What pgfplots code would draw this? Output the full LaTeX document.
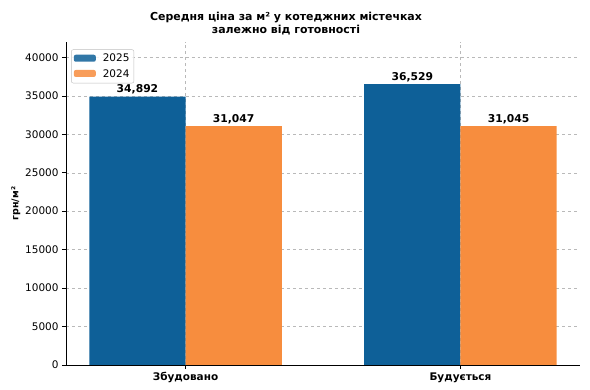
\documentclass[border=0pt]{standalone}
\usepackage{fontspec}
\setmainfont{DejaVu Sans}
\usepackage{pgfplots}
\pgfplotsset{compat=1.18}
\definecolor{cblue}{RGB}{14,96,152}
\definecolor{corange}{RGB}{247,141,62}
\begin{document}
\begin{tikzpicture}
\useasboundingbox (0,0) rectangle (590bp,390bp);
\begin{axis}[
  at={(66bp,25bp)}, anchor=south west,
  scale only axis, width=514bp, height=323bp,
  ybar, bar width=0.35,
  xmin=-0.435, xmax=1.435, ymin=0, ymax=42000,
  axis x line*=bottom, axis y line*=left,
  axis line style={line width=0.9pt, -},
  xtick={0,1}, xticklabels={Збудовано, Будується},
  xticklabel style={font=\fontsize{10.5}{12}\selectfont\bfseries},
  ytick={0,5000,...,40000},
  yticklabel style={font=\fontsize{10.5}{12}\selectfont, /pgf/number format/1000 sep={}},
  /pgf/number format/assume math mode=true,
  scaled y ticks=false,
  tick align=outside, major tick length=4bp, tick style={black, line width=0.6pt},
  grid=major, grid style={dashed, gray!55, line width=0.4pt},
  ylabel={грн/м²}, ylabel style={font=\fontsize{9.5}{11}\selectfont\bfseries, yshift=-2bp},
  title={Середня ціна за м² у котеджних містечках\\залежно від готовності},
  title style={align=center, font=\fontsize{11}{14}\selectfont\bfseries, xshift=-37bp, yshift=-3bp},
  nodes near coords,
  nodes near coords style={font=\fontsize{10.8}{12}\selectfont\bfseries, /pgf/number format/1000 sep={,}, /pgf/number format/assume math mode=true, yshift=-1bp},
  legend style={at={(axis description cs:0.01,0.977)}, anchor=north west, font=\fontsize{10.5}{12}\selectfont, draw=gray!50, rounded corners=2pt, fill=white, fill opacity=0.85, text opacity=1, row sep=2pt, inner sep=2.5pt,
    /tikz/every odd column/.append style={column sep=5bp}},
  legend cell align=left,
  legend image code/.code={\fill[#1] (2bp,-3bp) rectangle (24bp,4bp);},
]
\addplot[bar shift=-0.175, fill=cblue, draw=none] coordinates {(0,34892) (1,36529)};
\addlegendentry{2025}
\addplot[bar shift=0.175, fill=corange, draw=none] coordinates {(0,31047) (1,31045)};
\addlegendentry{2024}
\end{axis}
\end{tikzpicture}
\end{document}
